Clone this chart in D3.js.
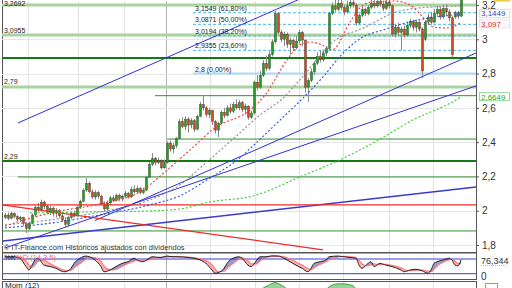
<!DOCTYPE html>
<html>
<head>
<meta charset="utf-8">
<script src="https://cdn.jsdelivr.net/npm/d3@7"></script>
<style>
  body { margin: 0; background: #fff; }
  svg { display: block; font-family: "Liberation Sans", Arial, sans-serif; }
</style>
</head>
<body>
<script>
// ---- daily candles ----
const opens = [
  1.960,1.975,1.955,1.985,1.965,1.950,1.960,1.925,1.895,1.925,
  1.975,2.020,2.005,2.050,2.025,1.990,2.015,1.985,2.000,1.970,
  1.945,1.920,1.960,1.985,1.970,2.020,2.055,2.120,2.160,2.110,
  2.080,2.105,2.085,2.040,2.010,2.045,2.075,2.060,2.090,2.070,
  2.085,2.100,2.080,2.125,2.110,2.130,2.105,2.120,2.195,2.270,
  2.305,2.280,2.295,2.250,2.280,2.395,2.360,2.380,2.420,2.520,
  2.490,2.535,2.500,2.525,2.475,2.550,2.620,2.600,2.560,2.585,
  2.520,2.470,2.510,2.575,2.555,2.600,2.580,2.620,2.600,2.630,
  2.590,2.610,2.545,2.570,2.750,2.720,2.790,2.860,2.830,2.910,
  2.985,3.150,3.040,3.000,3.030,2.970,2.995,2.950,2.990,3.040,
  2.995,2.720,2.760,2.810,2.860,2.900,2.880,2.920,2.945,3.150,
  3.195,3.175,3.210,3.185,3.160,3.195,3.215,3.200,3.095,3.140,
  3.175,3.150,3.185,3.210,3.195,3.220,3.205,3.180,3.215,3.195,
  3.030,3.070,3.040,3.060,3.025,3.080,3.105,3.070,3.100,3.060,
  3.000,3.100,3.130,3.100,3.150,3.175,3.130,3.180,3.160,3.125,
  3.130,3.155,3.135];
const closes = [
  1.975,1.955,1.985,1.965,1.950,1.960,1.925,1.895,1.925,1.975,
  2.020,2.005,2.050,2.025,1.990,2.015,1.985,2.000,1.970,1.945,
  1.920,1.960,1.985,1.970,2.020,2.055,2.120,2.160,2.110,2.080,
  2.105,2.085,2.040,2.010,2.045,2.075,2.060,2.090,2.070,2.085,
  2.100,2.080,2.125,2.110,2.130,2.105,2.120,2.195,2.270,2.305,
  2.280,2.295,2.250,2.280,2.395,2.360,2.380,2.420,2.520,2.490,
  2.535,2.500,2.525,2.475,2.550,2.620,2.600,2.560,2.585,2.520,
  2.470,2.510,2.575,2.555,2.600,2.580,2.620,2.600,2.630,2.590,
  2.610,2.545,2.570,2.750,2.720,2.790,2.860,2.830,2.910,2.985,
  3.150,3.040,3.000,3.030,2.970,2.995,2.950,2.990,3.040,2.995,
  2.720,2.760,2.810,2.860,2.900,2.880,2.920,2.945,3.150,3.195,
  3.175,3.210,3.185,3.160,3.195,3.215,3.200,3.095,3.140,3.175,
  3.150,3.185,3.210,3.195,3.220,3.205,3.180,3.215,3.195,3.030,
  3.070,3.040,3.060,3.025,3.080,3.105,3.070,3.100,3.060,2.815,
  3.100,3.130,3.100,3.150,3.175,3.130,3.180,3.160,3.125,2.910,
  3.155,3.135,3.250];
const highs = [
  1.985,1.990,1.995,1.990,1.975,1.970,1.965,1.935,1.935,1.985,
  2.030,2.045,2.065,2.060,2.035,2.030,2.025,2.015,2.010,1.980,
  1.960,1.970,1.995,2.000,2.030,2.065,2.130,2.190,2.170,2.125,
  2.120,2.115,2.095,2.055,2.060,2.085,2.090,2.100,2.100,2.095,
  2.115,2.110,2.140,2.150,2.145,2.140,2.135,2.205,2.285,2.335,
  2.315,2.310,2.300,2.300,2.405,2.410,2.395,2.430,2.535,2.545,
  2.550,2.545,2.540,2.535,2.560,2.635,2.675,2.610,2.600,2.590,
  2.530,2.520,2.585,2.600,2.615,2.625,2.635,2.650,2.645,2.640,
  2.625,2.615,2.585,2.760,2.790,2.815,2.880,2.905,2.930,3.000,
  3.165,3.160,3.055,3.045,3.040,3.010,3.005,3.020,3.055,3.050,
  3.000,2.775,2.830,2.870,2.925,2.935,2.940,2.960,3.160,3.215,
  3.230,3.235,3.240,3.200,3.225,3.240,3.235,3.210,3.150,3.195,
  3.185,3.200,3.235,3.240,3.240,3.240,3.225,3.235,3.240,3.205,
  3.085,3.095,3.075,3.080,3.095,3.120,3.115,3.115,3.110,3.070,
  3.110,3.150,3.160,3.175,3.195,3.190,3.200,3.205,3.175,3.135,
  3.165,3.165,3.275];
const lows = [
  1.950,1.945,1.950,1.955,1.940,1.935,1.910,1.870,1.885,1.920,
  1.965,1.995,2.000,2.010,1.980,1.975,1.965,1.960,1.955,1.935,
  1.905,1.910,1.950,1.960,1.965,2.010,2.050,2.110,2.100,2.070,
  2.065,2.070,2.030,1.995,2.000,2.035,2.050,2.055,2.060,2.055,
  2.075,2.070,2.075,2.100,2.100,2.095,2.095,2.115,2.190,2.260,
  2.265,2.270,2.240,2.245,2.275,2.345,2.335,2.365,2.415,2.480,
  2.470,2.455,2.480,2.460,2.470,2.545,2.585,2.545,2.540,2.500,
  2.450,2.430,2.505,2.540,2.550,2.565,2.570,2.590,2.585,2.575,
  2.560,2.530,2.535,2.560,2.700,2.710,2.780,2.815,2.820,2.900,
  2.975,3.030,2.985,2.960,2.950,2.910,2.930,2.940,2.975,2.960,
  2.690,2.635,2.750,2.790,2.850,2.865,2.870,2.900,2.940,3.140,
  3.160,3.165,3.170,3.140,3.150,3.180,3.185,3.080,3.085,3.130,
  3.135,3.140,3.175,3.180,3.185,3.190,3.165,3.170,3.180,3.015,
  3.010,3.020,2.935,3.010,3.015,3.065,3.050,3.040,3.045,2.775,
  2.990,3.085,3.085,3.095,3.130,3.115,3.120,3.140,3.105,2.895,
  3.120,3.120,3.130];

const priceTicks = [3.2, 3, 2.8, 2.6, 2.4, 2.2, 2, 1.8];
const monthIdx = [7.7, 24.3, 39.7, 53.7, 68.3, 83.3, 98, 112.7, 128, 142.7];
const yearIdx = 53.7;

// moving averages, traced as [candle index, price]
const maRed = [[0,1.911],[15,1.987],[31.7,2.040],[45,2.110],[53.3,2.226],[61.7,2.355],[70,2.483],[81.7,2.588],[86.7,2.675],[94,2.879],[98.3,2.967],[101.7,2.984],[105.7,2.967],[109,2.938],[115,3.101],[118.3,3.183],[122.3,3.218],[130,3.223],[135,3.200],[139.3,3.130],[142.7,3.072],[147.3,3.066],[152,3.097]];
const maGray = [[0,1.917],[31.7,1.993],[48.3,2.063],[58.3,2.150],[67.3,2.285],[78.3,2.454],[85,2.559],[92,2.646],[98.3,2.763],[109.3,2.984],[120.3,3.072],[130.3,3.159],[138.3,3.183],[152,3.194]];
const maBlue = [[0,1.900],[18.3,1.935],[31.7,1.976],[48.3,2.034],[58.3,2.087],[68.3,2.191],[78.3,2.308],[83.7,2.395],[91.7,2.529],[98.7,2.646],[106,2.780],[112.7,2.920],[119.3,3.013],[126,3.054],[134.7,3.101],[141.3,3.124],[152,3.1449]];
const maGreen = [[8.3,1.987],[28.3,1.993],[48.3,1.999],[58.3,2.010],[68.3,2.051],[82.7,2.086],[98.3,2.197],[113.7,2.314],[122.7,2.395],[136,2.530],[150.3,2.646],[152,2.6649]];

// trend lines [start, end] as [index, price]
const blueTrends = [
  [[4.33,2.512],[98.3,3.235]],
  [[30,1.943],[157,2.920]],
  [[0,1.783],[157,2.728]],
  [[-0.67,1.824],[157,2.139]]];
const redTrends = [
  [[-1,2.034],[106,1.772]],
  [[-1,2.034],[157,2.034]]];

// horizontal support / resistance levels
const levels      = [3.2, 3.025, 2.891, 2.722, 2.671, 2.418, 2.29, 2.197, 1.882];
const levelFrom   = [-1, -1, -1, -1, 50, 54, -1, 4.3, -1];
const levelKind   = ["soft","soft","hard","soft","thin","thin","hard","thin","thin"];
const levelLabels = ["3,2692","3,0955","","2,79","","","2,29","",""];

// Fibonacci retracement
const fibValues = [3.1549, 3.0871, 3.0194, 2.9355, 2.8];
const fibLabels = ["3,1549 (61,80%)","3,0871 (50,00%)","3,0194 (38,20%)","2,9355 (23,60%)","2,8 (0,00%)"];
const fibFrom = 62.7;

// stochastic %K %D (14,3,5)
const stochIdx = [0,3,5,7,8,9,10,11,13,15, 17,18,20,22,23,25,27,28,30,32,
  33,35,37,39,41,43,44,46,48,49, 52,54,56,58,61,63,65,67,69,70,
  71,73,74,76,78,79,81,82,84,85, 87,89,91,93,95,97,99,101,102,103,
  105,107,108,111,113,115,117,118,119,121, 122,123,125,127,129,132,133,135,137,139,
  141,142,143,144,146,148,149,150,151,152];
const stochK = [89,89,83,49,35,55,76,83,55,49, 42,35,28,42,62,83,92,89,76,49,
  28,35,49,62,69,83,76,69,83,89, 86,92,89,89,86,83,76,62,35,22,
  24,42,62,83,89,83,55,49,76,89, 89,93,92,83,69,55,42,28,42,62,
  69,76,89,92,89,86,83,55,42,62, 69,49,62,55,49,35,28,35,38,32,
  22,35,62,69,76,83,76,55,52,76.344];
const stochD = [85,88,87,72,56,46,55,70,75,60, 48,42,34,33,44,62,80,88,86,70,
  51,36,38,50,62,71,76,75,76,81, 87,88,90,89,88,85,81,73,56,40,
  28,30,42,62,80,85,73,60,60,72, 86,90,92,89,80,68,55,41,36,44,
  58,69,78,88,91,89,86,75,60,52, 58,60,57,58,54,44,37,32,34,35,
  30,28,38,52,67,76,79,72,62,62];
const stochLevels = [20, 80];

// momentum (12)
const momIdx = [0,10,20,27,35,45,50,55,60,66,72,78,84,86,88,90,92,94,97,100,104,106,108,110,112,114,116,118,122,128,132,138,142,146,150,152];
const momVals = [0.05,0.1,-0.05,0.2,-0.05,0.1,0.25,0.2,0.3,0.28,0.05,0.08,0.3,0.42,0.5,0.56,0.5,0.4,0.25,0,0.1,0.3,0.45,0.52,0.53,0.52,0.48,0.3,0.2,0.05,-0.15,-0.1,-0.1,0.1,0.05,0.12];

// ---- layout ----
var panelL = 2, panelR = 476,
    mainB = 252, stochT = 252.5, stochB = 279, momT = 281;

var svg = d3.select("body").append("svg").attr("width", 512).attr("height", 288);
var defs = svg.append("defs");

var x = d3.scaleLinear().domain([0, 152]).range([5, 461]);
var y = d3.scaleLinear().domain([1.8, 3.2]).range([245, 5]);
var sy = d3.scaleLinear().domain([0, 100]).range([278.6, 254.1]);
var my = d3.scaleLinear().domain([0, 0.6]).range([305, 281]);
var comma = function(d) { return String(d).replace(".", ","); };

function clip(id, y0, y1) {
  defs.append("clipPath").attr("id", id).append("rect")
    .attr("x", panelL).attr("y", y0).attr("width", panelR - panelL).attr("height", y1 - y0);
}
clip("cMain", 0, mainB);
clip("cStoch", stochT, stochB);
clip("cMom", momT, 300);

// panels
[[0 - 2, mainB], [stochT, stochB], [momT, 300]].forEach(function(p) {
  svg.append("rect").attr("x", panelL + 0.5).attr("y", p[0] + 0.5)
    .attr("width", panelR - panelL).attr("height", p[1] - p[0])
    .attr("fill", "#fff").attr("stroke", "#555").attr("stroke-width", 1);
});

// month grid in every panel
[[0, mainB], [stochT, stochB], [momT, 288]].forEach(function(p) {
  svg.append("g").selectAll("line").data(monthIdx).enter().append("line")
    .attr("x1", function(d) { return Math.round(x(d)) + 0.5; })
    .attr("x2", function(d) { return Math.round(x(d)) + 0.5; })
    .attr("y1", p[0] + 1).attr("y2", p[1])
    .attr("stroke", function(d) { return d === yearIdx ? "#b4b4b4" : "#e2e2e2"; });
});

var main = svg.append("g").attr("clip-path", "url(#cMain)");

main.append("g").selectAll("line").data(priceTicks).enter().append("line")
  .attr("x1", panelL).attr("x2", panelR)
  .attr("y1", function(d) { return Math.round(y(d)) + 0.5; })
  .attr("y2", function(d) { return Math.round(y(d)) + 0.5; })
  .attr("stroke", "#e6e6e6");

// levels
var levelStyle = {
  soft: { c: "#a9d3a0", w: 3 },
  hard: { c: "#137a13", w: 2 },
  thin: { c: "#2f922f", w: 1 }
};
levels.forEach(function(v, i) {
  var st = levelStyle[levelKind[i]];
  main.append("line")
    .attr("x1", x(levelFrom[i])).attr("x2", panelR)
    .attr("y1", y(v)).attr("y2", y(v))
    .attr("stroke", st.c).attr("stroke-width", st.w);
});

// fibonacci
fibValues.forEach(function(v, i) {
  var last = i === fibValues.length - 1;
  main.append("line")
    .attr("x1", x(fibFrom)).attr("x2", panelR)
    .attr("y1", y(v)).attr("y2", y(v))
    .attr("stroke", last ? "#a8dcfa" : "#48b8f0")
    .attr("stroke-width", last ? 2 : 1)
    .attr("stroke-dasharray", last ? null : "3,2");
});

// candles
var idx = d3.range(closes.length);
main.append("g").selectAll("line").data(idx).enter().append("line")
  .attr("x1", function(i) { return x(i) + 0.5; })
  .attr("x2", function(i) { return x(i) + 0.5; })
  .attr("y1", function(i) { return y(highs[i]); })
  .attr("y2", function(i) { return y(lows[i]); })
  .attr("stroke", "#8a8a8a").attr("stroke-width", 1);
main.append("g").selectAll("rect").data(idx).enter().append("rect")
  .attr("x", function(i) { return x(i) - 0.6; })
  .attr("width", 2.2)
  .attr("y", function(i) { return y(Math.max(opens[i], closes[i])); })
  .attr("height", function(i) { return Math.max(1, Math.abs(y(opens[i]) - y(closes[i]))); })
  .attr("fill", function(i) { return closes[i] >= opens[i] ? "#1fa01f" : "#cc4a1e"; })
  .attr("stroke", "#333").attr("stroke-width", 0.35);

// trend lines
var seg = d3.line().x(function(d) { return x(d[0]); }).y(function(d) { return y(d[1]); });
blueTrends.forEach(function(t, i) {
  main.append("path").attr("d", seg(t)).attr("fill", "none")
    .attr("stroke", i === 3 ? "#3a3acc" : "#2f2fe0").attr("stroke-width", i === 3 ? 1.5 : 1);
});
redTrends.forEach(function(t) {
  main.append("path").attr("d", seg(t)).attr("fill", "none")
    .attr("stroke", "#ee2b2b").attr("stroke-width", 1.2);
});

// moving averages
var maLine = d3.line().curve(d3.curveMonotoneX)
  .x(function(d) { return x(d[0]); }).y(function(d) { return y(d[1]); });
[[maGreen, "#33cc33"], [maBlue, "#2a55dd"], [maGray, "#8c8c8c"], [maRed, "#ee3a3a"]].forEach(function(m) {
  main.append("path").attr("d", maLine(m[0])).attr("fill", "none")
    .attr("stroke", m[1]).attr("stroke-width", 1.1).attr("stroke-dasharray", "2,2");
});

// labels in the main panel
levels.forEach(function(v, i) {
  if (!levelLabels[i]) return;
  main.append("text").attr("x", 4).attr("y", Math.max(6, y(v) - 2.5))
    .text(levelLabels[i]).style("font-size", "7px").attr("fill", "#222");
});
fibValues.forEach(function(v, i) {
  main.append("text").attr("x", x(fibFrom) + 2).attr("y", y(v) - 2)
    .text(fibLabels[i]).style("font-size", "7px").attr("fill", "#222");
});
svg.append("text").attr("x", 4).attr("y", 249.5)
  .text("© IT-Finance.com  Históricos ajustados con dividendos")
  .style("font-size", "7.5px").attr("fill", "#333");

// price axis
var ax = svg.append("g").attr("transform", "translate(" + panelR + ",0)")
  .call(d3.axisRight(y).tickValues(priceTicks).tickSize(3).tickPadding(3).tickFormat(comma));
ax.select(".domain").remove();
ax.selectAll("line").attr("stroke", "#555");
ax.selectAll("text").style("font-size", "10px").attr("fill", "#333")
  .style("font-family", "'Liberation Sans', Arial, sans-serif");

// last values on the axis (nudge keeps close tags apart)
function tag(v, label, color, border, nudge) {
  var ty = y(v) + nudge;
  svg.append("rect").attr("x", 479.5).attr("y", ty - 4).attr("width", 30).attr("height", 8)
    .attr("fill", "#fff").attr("stroke", border).attr("stroke-width", 0.8);
  svg.append("text").attr("x", 481).attr("y", ty + 2.8).text(label)
    .style("font-size", "8px").attr("fill", color);
}
tag(3.1449, "3,1449", "#3344bb", "#c8d8ee", -0.8);
tag(3.097, "3,097", "#dd2020", "#f4d0d0", 1.2);
tag(2.6649, "2,6649", "#22aa22", "#7fd07f", 0);
svg.append("rect").attr("x", 494).attr("y", -8).attr("width", 16).attr("height", 9.5)
  .attr("fill", "#f6c848");

// ---- stochastic ----
var sp = svg.append("g").attr("clip-path", "url(#cStoch)");
var rows = stochIdx.map(function(v, i) { return { i: v, k: stochK[i], d: stochD[i] }; });
var cv = d3.curveMonotoneX;
defs.append("clipPath").attr("id", "kUp").append("path")
  .attr("d", d3.area().curve(cv).x(function(r) { return x(r.i); }).y0(stochT).y1(function(r) { return sy(r.d); })(rows));
defs.append("clipPath").attr("id", "kDn").append("path")
  .attr("d", d3.area().curve(cv).x(function(r) { return x(r.i); }).y0(stochB).y1(function(r) { return sy(r.d); })(rows));
var band = d3.area().curve(cv).x(function(r) { return x(r.i); })
  .y0(function(r) { return sy(r.k); }).y1(function(r) { return sy(r.d); });
sp.append("g").attr("clip-path", "url(#kUp)").append("path").attr("d", band(rows)).attr("fill", "#9a9ad0");
sp.append("g").attr("clip-path", "url(#kDn)").append("path").attr("d", band(rows)).attr("fill", "#ffb4b4");
stochLevels.forEach(function(v) {
  sp.append("line").attr("x1", panelL).attr("x2", panelR)
    .attr("y1", sy(v)).attr("y2", sy(v)).attr("stroke", "#3a3ad8").attr("stroke-width", 1);
});
sp.append("path").attr("d", d3.line().curve(cv).x(function(r) { return x(r.i); }).y(function(r) { return sy(r.d); })(rows))
  .attr("fill", "none").attr("stroke", "#ff7a7a").attr("stroke-width", 1.2);
sp.append("path").attr("d", d3.line().curve(cv).x(function(r) { return x(r.i); }).y(function(r) { return sy(r.k); })(rows))
  .attr("fill", "none").attr("stroke", "#222").attr("stroke-width", 1);
sp.append("text").attr("x", 4).attr("y", 260).text("%K").style("font-size", "7.5px").attr("fill", "#222");
sp.append("text").attr("x", 16).attr("y", 260).text("%D (14,3,5)").style("font-size", "7.5px").attr("fill", "#ff6060");

svg.append("text").attr("x", 481).attr("y", 263.5).text(comma(stochK[stochK.length - 1]))
  .style("font-size", "9px").attr("fill", "#333");
svg.append("line").attr("x1", 481).attr("x2", 507).attr("y1", 265.5).attr("y2", 265.5)
  .attr("stroke", "#f0a0a0").attr("stroke-dasharray", "1,1");
svg.append("text").attr("x", 481).attr("y", 279.5).text("0").style("font-size", "10px").attr("fill", "#333");

// ---- momentum ----
var mp = svg.append("g").attr("clip-path", "url(#cMom)");
var momRows = momIdx.map(function(v, i) { return [v, momVals[i]]; });
mp.append("path")
  .attr("d", d3.area().curve(cv).x(function(d) { return x(d[0]); }).y0(my(0)).y1(function(d) { return my(d[1]); })(momRows))
  .attr("fill", "#98d498").attr("stroke", "#2d8a2d").attr("stroke-width", 0.8);
mp.append("text").attr("x", 5).attr("y", 287.5).text("Mom (12)").style("font-size", "8px").attr("fill", "#222");
svg.append("rect").attr("x", 485.5).attr("y", 283.5).attr("width", 12).attr("height", 8)
  .attr("fill", "#fff").attr("stroke", "#999");
</script>
</body>
</html>
